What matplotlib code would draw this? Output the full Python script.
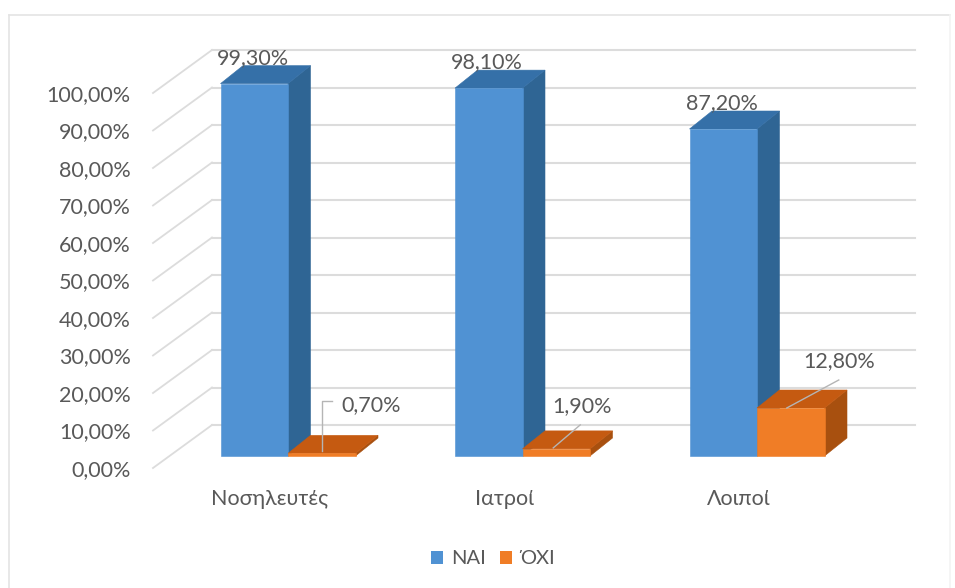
import matplotlib
matplotlib.use("Agg")
import matplotlib.pyplot as plt
from matplotlib.lines import Line2D
from matplotlib.patches import Patch, Polygon

categories = ["Νοσηλευτές", "Ιατροί", "Λοιποί"]
series_names = ["ΝΑΙ", "ΌΧΙ"]
yes_values = [99.30, 98.10, 87.20]
no_values = [0.70, 1.90, 12.80]
y_ticks = [0, 10, 20, 30, 40, 50, 60, 70, 80, 90, 100]

W, H = 955, 588
PX_X = 234.5  # pixels per category
PX_Y = 3.75   # pixels per percent

BLUE = ("#5092d3", "#2f6594", "#3570a8")    # front, side, top
ORANGE = ("#f07d26", "#a8500f", "#c55a11")
TEXT = "#595959"
GRID = "#dcdcdc"
FONT_SIZE = 15.5

plt.rcParams["font.family"] = ["Lato", "DejaVu Sans"]

fig = plt.figure(figsize=(W / 100, H / 100), dpi=100, facecolor="white")
ax = fig.add_axes([153 / W, (H - 468) / H, 703 / W, 375 / H])
ax.set_xlim(-135 / PX_X, 568 / PX_X)
ax.set_ylim(0, 100)
ax.patch.set_visible(False)
for s in ax.spines.values():
    s.set_visible(False)

# depth of the floor and of the bars, in data units
wall_dx, wall_dy = 59 / PX_X, 43 / PX_Y
bar_dy = 12 / PX_Y
depth_dx, depth_dy = 22.5 / PX_X, 18 / PX_Y
bar_w = 67.5 / PX_X
right_end = 568 / PX_X + 59 / PX_X

# back wall grid and the slanted lines on the side wall
x_left = ax.get_xlim()[0]
for v in y_ticks:
    ax.plot([x_left, x_left + wall_dx], [v, v + wall_dy], color=GRID, lw=1.3,
            clip_on=False, zorder=1)
    ax.plot([x_left + wall_dx, right_end], [v + wall_dy, v + wall_dy], color=GRID,
            lw=1.5, clip_on=False, zorder=1)


def draw_bar(x0, value, colors, z):
    x1 = x0 + bar_w
    y0 = bar_dy
    y1 = value + bar_dy
    side = [(x1, y0), (x1 + depth_dx, y0 + depth_dy), (x1 + depth_dx, y1 + depth_dy), (x1, y1)]
    top = [(x0, y1), (x1, y1), (x1 + depth_dx, y1 + depth_dy), (x0 + depth_dx, y1 + depth_dy)]
    front = [(x0, y0), (x1, y0), (x1, y1), (x0, y1)]
    for pts, c in zip((side, top, front), (colors[1], colors[2], colors[0])):
        ax.add_patch(Polygon(pts, closed=True, facecolor=c, edgecolor=c, lw=0.4,
                             clip_on=False, zorder=z))


for i in range(len(categories)):
    draw_bar(i - bar_w, yes_values[i], BLUE, 3)
    draw_bar(i, no_values[i], ORANGE, 4)

# value labels, offsets in pixels from the middle of each bar's top edge
yes_offsets = [(-1, 26), (-2, 26), (-1, 26)]
no_offsets = [(49, 48), (26, 43), (48, 47)]
leaders = [
    [(0, 2), (0, 52), (10, 52)],
    [(-3, 1), (24, 24)],
    [(-4, 0), (48, 28)],
]

for i in range(len(categories)):
    ax.annotate(f"{yes_values[i]:.2f}%".replace(".", ","),
                xy=(i - bar_w / 2, yes_values[i] + bar_dy), xytext=yes_offsets[i],
                textcoords="offset pixels", ha="center", va="center",
                fontsize=FONT_SIZE, color=TEXT, zorder=6, annotation_clip=False)
    x_mid = i + bar_w / 2
    y_mid = no_values[i] + bar_dy
    ax.annotate(f"{no_values[i]:.2f}%".replace(".", ","),
                xy=(x_mid, y_mid), xytext=no_offsets[i],
                textcoords="offset pixels", ha="center", va="center",
                fontsize=FONT_SIZE, color=TEXT, zorder=6, annotation_clip=False)
    ax.plot([x_mid + p[0] / PX_X for p in leaders[i]],
            [y_mid + p[1] / PX_Y for p in leaders[i]],
            color="#b5b5b5", lw=1, clip_on=False, zorder=5)

ax.set_yticks(y_ticks)
ax.set_yticklabels([f"{v:.2f}%".replace(".", ",") for v in y_ticks])
ax.set_xticks([i - 18 / PX_X for i in range(len(categories))])
ax.set_xticklabels(categories)
ax.tick_params(axis="y", length=0, pad=16, labelsize=FONT_SIZE, labelcolor=TEXT)
ax.tick_params(axis="x", length=0, pad=15, labelsize=FONT_SIZE, labelcolor=TEXT)

handles = [Patch(facecolor=BLUE[0]), Patch(facecolor=ORANGE[0])]
fig.legend(handles, series_names, loc="center", bbox_to_anchor=(493 / W, (H - 559) / H),
           ncol=2, frameon=False, fontsize=14.5, labelcolor=TEXT, handlelength=0.58,
           handleheight=0.58, handletextpad=0.4, columnspacing=0.7)

# chart area border
border = dict(color="#e4e4e4", lw=1.2, transform=fig.transFigure)
fig.add_artist(Line2D([9 / W, 9 / W], [0, (H - 15) / H], **border))
fig.add_artist(Line2D([9 / W, 950 / W], [(H - 15) / H, (H - 15) / H], **border))
fig.add_artist(Line2D([950 / W, 950 / W], [0, (H - 15) / H], color="#f4f4f4", lw=1.2,
                      transform=fig.transFigure))

fig.savefig("out.png", dpi=100)
